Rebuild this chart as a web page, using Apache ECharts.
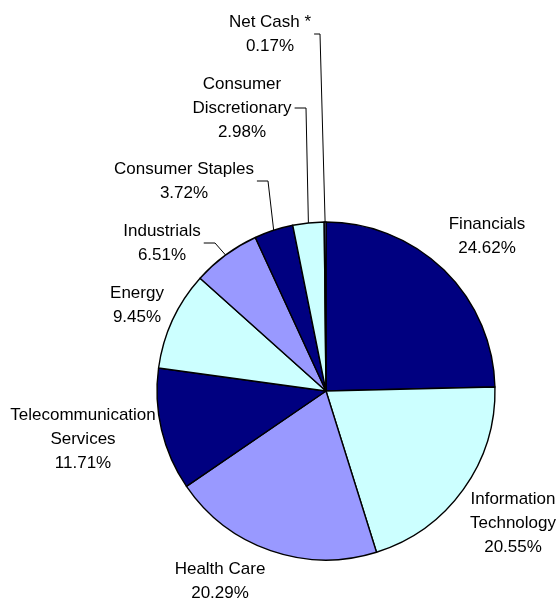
<!DOCTYPE html>
<html>
<head>
<meta charset="utf-8">
<script src="https://cdn.jsdelivr.net/npm/echarts@6/dist/echarts.min.js"></script>
<style>
html,body{margin:0;padding:0;background:#fff;}
#chart{width:559px;height:602px;}
</style>
</head>
<body>
<div id="chart"></div>
<script>
// ---- data ----
var categories = ['Financials', 'Information Technology', 'Health Care', 'Telecommunication Services',
  'Energy', 'Industrials', 'Consumer Staples', 'Consumer Discretionary', 'Net Cash *'];
var labelText = ['Financials', 'Information\nTechnology', 'Health Care', 'Telecommunication\nServices',
  'Energy', 'Industrials', 'Consumer Staples', 'Consumer\nDiscretionary', 'Net Cash *'];
var values = [24.62, 20.55, 20.29, 11.71, 9.45, 6.51, 3.72, 2.98, 0.17];

// ---- styling / layout ----
var colors = ['#000080', '#CCFFFF', '#9999FF', '#000080', '#CCFFFF', '#9999FF', '#000080', '#CCFFFF', '#9999FF'];
// label block centres and leader-line bend x (null = no leader line)
var labelPlace = [
  {x: 487, y: 236, bend: null},
  {x: 513, y: 523, bend: null},
  {x: 220, y: 581, bend: null},
  {x: 83,  y: 439, bend: null},
  {x: 137, y: 305, bend: null},
  {x: 162, y: 243, bend: 215},
  {x: 184, y: 181, bend: 268},
  {x: 242, y: 108, bend: 306},
  {x: 270, y: 34,  bend: 320}
];

var chart = echarts.init(document.getElementById('chart'), null, {renderer: 'canvas'});

var seriesData = categories.map(function (c, i) {
  return {
    name: c,
    value: values[i],
    itemStyle: {color: colors[i]},
    labelLine: {show: labelPlace[i].bend !== null}
  };
});

chart.setOption({
  backgroundColor: '#ffffff',
  animation: false,
  series: [{
    type: 'pie',
    center: [326, 391],
    radius: 169,
    startAngle: 90,
    clockwise: true,
    avoidLabelOverlap: false,
    itemStyle: {borderColor: '#000000', borderWidth: 1.4},
    label: {
      show: true,
      position: 'outside',
      color: '#000000',
      fontFamily: 'Liberation Sans, Arial, sans-serif',
      fontSize: 17,
      lineHeight: 24,
      align: 'center',
      formatter: function (p) {
        return labelText[p.dataIndex] + '\n' + values[p.dataIndex].toFixed(2) + '%';
      }
    },
    labelLine: {
      show: true,
      length: 10,
      length2: 10,
      lineStyle: {color: '#000000', width: 1}
    },
    labelLayout: function (params) {
      var pl = labelPlace[params.dataIndex];
      var res = {x: pl.x, y: pl.y, align: 'center', verticalAlign: 'middle', hideOverlap: false};
      if (pl.bend !== null && params.labelLinePoints) {
        var p0 = params.labelLinePoints[0];
        var right = pl.x + params.labelRect.width / 2 + 3;
        res.labelLinePoints = [[p0[0], p0[1]], [pl.bend, pl.y], [right, pl.y]];
      }
      return res;
    },
    data: seriesData
  }]
});
</script>
</body>
</html>
